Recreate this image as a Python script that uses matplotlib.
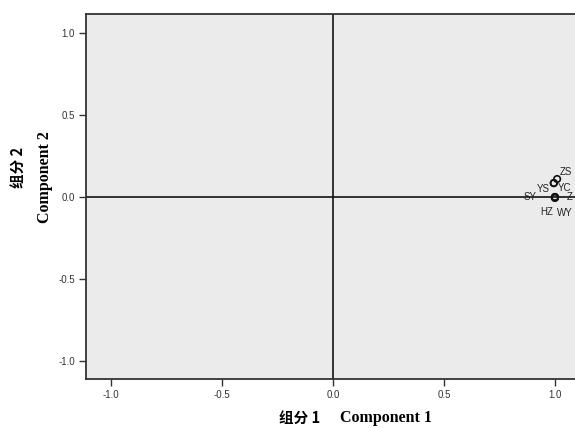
import matplotlib
matplotlib.use("Agg")
import matplotlib.pyplot as plt

# Data (component loadings)
labels = ['SY', 'HZ', 'WY', 'Z', 'YS', 'YC', 'ZS']
comp1 = [1.00, 1.00, 1.00, 1.00, 0.995, 0.995, 1.01]
comp2 = [0.00, -0.005, -0.005, 0.00, 0.085, 0.085, 0.11]
xticks = [-1.0, -0.5, 0.0, 0.5, 1.0]
yticks = [-1.0, -0.5, 0.0, 0.5, 1.0]

# label offsets in pixels (style only)
offsets = {'SY': (-25, 0, 'center'), 'HZ': (-8, -14, 'center'), 'WY': (10, -15, 'center'),
           'Z': (12, 0, 'left'), 'YS': (-10, -6, 'center'), 'YC': (11, -5, 'center'),
           'ZS': (9, 7, 'center')}

fig = plt.figure(figsize=(5.75, 4.28), dpi=100)
ax = fig.add_axes([86/575, 1-379/428, 494/575, (379-14)/428])
ax.set_facecolor('#ebebeb')
ax.set_xlim(-1.113, 1.113)
ax.set_ylim(-1.113, 1.119)

ax.axhline(0, color='#111111', lw=1.2, zorder=1)
ax.axvline(0, color='#111111', lw=1.2, zorder=1)

ax.scatter(comp1, comp2, s=22, facecolors='none', edgecolors='#111111', linewidths=1.2, zorder=3)
for lab, x, y in zip(labels, comp1, comp2):
    dx, dy, ha = offsets[lab]
    ax.annotate(lab, (x, y), xytext=(dx, dy), textcoords='offset pixels',
                ha=ha, va='center', fontsize=7, color='#222222',
                family='Liberation Sans', annotation_clip=False)

ax.set_xticks(xticks)
ax.set_yticks(yticks)
ax.set_xticklabels([f'{v:.1f}' for v in xticks])
ax.set_yticklabels([f'{v:.1f}' for v in yticks])
ax.tick_params(direction='out', length=5, width=1, color='#333333',
               labelsize=7, labelcolor='#333333', pad=3)
for lbl in ax.get_xticklabels() + ax.get_yticklabels():
    lbl.set_family('Liberation Sans')
for sp in ax.spines.values():
    sp.set_color('#333333')
    sp.set_linewidth(1.3)

# axis titles
fig.text(18/575, 1-167/428, '组分 2', rotation=90, ha='center', va='center',
         fontsize=10.5, fontweight='bold', family=['Noto Sans CJK SC', 'DejaVu Sans'])
fig.text(45/575, 1-177/428, 'Component 2', rotation=90, ha='center', va='center',
         fontsize=11.5, fontweight='bold', family='Liberation Serif')
fig.text(300/575, 1-418/428, '组分 1', ha='center', va='center',
         fontsize=10.5, fontweight='bold', family=['Noto Sans CJK SC', 'DejaVu Sans'])
fig.text(386/575, 1-418/428, 'Component 1', ha='center', va='center',
         fontsize=11.5, fontweight='bold', family='Liberation Serif')

fig.savefig('out.png', dpi=100)
